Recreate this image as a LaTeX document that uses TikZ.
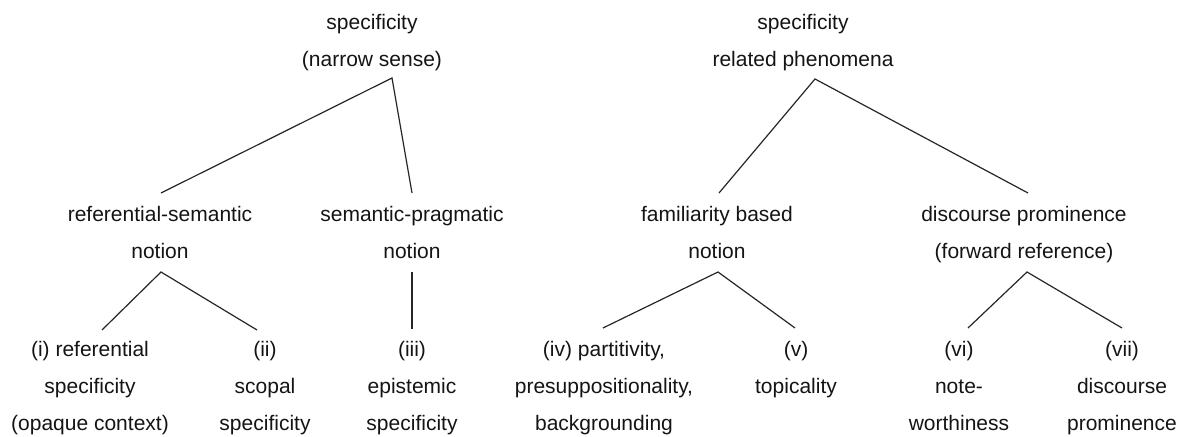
\documentclass[tikz,border=0pt]{standalone}
\usepackage{fontspec}
\setmainfont{Liberation Sans}
\usetikzlibrary{calc}
\begin{document}
\begin{tikzpicture}[x=0.5pt,y=-0.5pt,
  lbl/.style={align=center,font={\fontsize{10.5pt}{18.5pt}\selectfont},text=black!92,inner sep=0pt,anchor=base},
  edge/.style={draw=black!85,line width=0.6pt,line join=miter}]
\useasboundingbox (0,0) rectangle (1180,437);
% roots (base = baseline of last line)
\node[lbl] (r1) at (372,67) {specificity\\(narrow sense)};
\node[lbl] (r2) at (803,67) {specificity\\related phenomena};
% middle
\node[lbl] (a) at (160,259) {referential-semantic\\notion};
\node[lbl] (b) at (412,259) {semantic-pragmatic\\notion};
\node[lbl] (c) at (717,259) {familiarity based\\notion};
\node[lbl] (d) at (1024,259) {discourse prominence\\(forward reference)};
% leaves
\node[lbl] (l1) at (90,431) {(i) referential\\specificity\\(opaque context)};
\node[lbl] (l2) at (265,431) {(ii)\\scopal\\specificity};
\node[lbl] (l3) at (412,431) {(iii)\\epistemic\\specificity};
\node[lbl] (l4) at (604,431) {(iv) partitivity,\\presuppositionality,\\backgrounding};
\node[lbl] (l5) at (796,394) {(v)\\topicality};
\node[lbl] (l6) at (959,431) {(vi)\\note-\\worthiness};
\node[lbl] (l7) at (1122,431) {(vii)\\discourse\\prominence};
% connectors
\draw[edge] ($(a.base)+(1,-66)$) -- ($(r1.base)+(20,11)$) -- ($(b.base)+(0,-66)$);
\draw[edge] ($(c.base)+(2,-66)$) -- ($(r2.base)+(12,12)$) -- ($(d.base)+(4,-66)$);
\draw[edge] ($(l1.base)+(12,-101)$) -- ($(a.base)+(1,13)$) -- ($(l2.base)+(-8,-101)$);
\draw[edge] ($(b.base)+(0,13)$) -- ($(l3.base)+(0,-102)$);
\draw[edge] ($(l4.base)+(-1,-103)$) -- ($(c.base)+(1,13)$) -- ($(l5.base)+(-1,-66)$);
\draw[edge] ($(l6.base)+(9,-103)$) -- ($(d.base)+(3,13)$) -- ($(l7.base)+(0,-103)$);
\end{tikzpicture}
\end{document}
